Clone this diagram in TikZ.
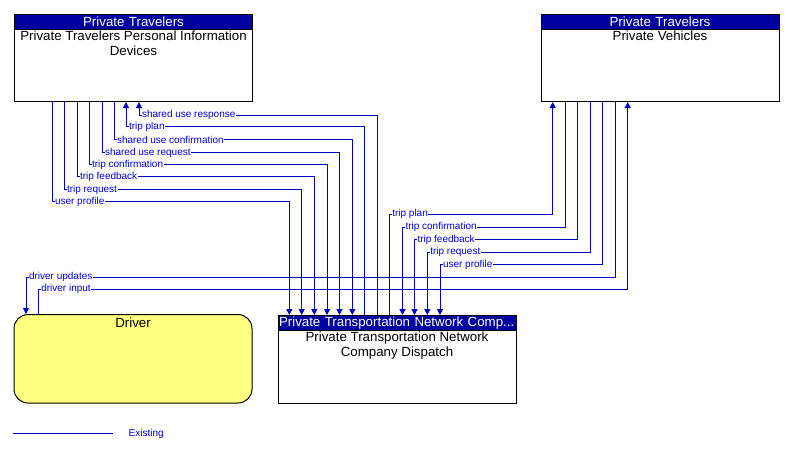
\documentclass[tikz,border=0pt]{standalone}
\usepackage{fontspec}
\setmainfont{Liberation Sans}
\usetikzlibrary{positioning,arrows.meta}

\definecolor{flowblue}{RGB}{0,0,192}
\definecolor{headblue}{RGB}{0,0,160}
\definecolor{labelblue}{RGB}{0,0,230}
\definecolor{driveryellow}{RGB}{255,255,128}

\tikzset{
  sysbox/.style={draw=black, line width=1pt, rectangle, inner sep=0pt, anchor=north west},
  syshead/.style={draw=black, line width=1pt, fill=headblue, text=white, inner xsep=1pt, inner ysep=0pt,
    text width=236pt, align=center, minimum height=15pt, anchor=north west, font=\fontsize{13.3}{15}\selectfont},
  systext/.style={inner sep=0pt, align=center, font=\fontsize{13.3}{15}\selectfont},
  flowline/.style={draw=flowblue, line width=1pt},
  flowlabel/.style={text=labelblue, fill=white, inner sep=0.5pt, anchor=west, xshift=2pt, font=\fontsize{10}{11}\selectfont},
}

\begin{document}
\begin{tikzpicture}[x=1pt, y=-1pt, >={Triangle[length=6pt,width=6pt]}]
  % Rahmen
  \useasboundingbox (0,0) rectangle (788,451);

  % Private Travelers Personal Information Devices
  \node[sysbox, minimum width=238pt, minimum height=87pt] (pid) at (14,14) {};
  \node[syshead] (pidhead) at (pid.north west) {Private Travelers};
  \node[systext, below=1pt of pidhead] (pidtext) {Private Travelers Personal Information\\Devices};

  % Private Vehicles
  \node[sysbox, minimum width=238pt, minimum height=87pt] (pv) at (540.5,14) {};
  \node[syshead] (pvhead) at (pv.north west) {Private Travelers};
  \node[systext, below=1pt of pvhead] (pvtext) {Private Vehicles};

  % Driver
  \node[sysbox, fill=driveryellow, rounded corners=14pt, minimum width=238pt, minimum height=88.5pt] (drv) at (13.5,314) {};
  \node[systext, below=3.5pt of drv.north] (drvtext) {Driver};

  % Private Transportation Network Company Dispatch
  \node[sysbox, minimum width=238pt, minimum height=88pt] (disp) at (277.5,315) {};
  \node[syshead, align=left] (disphead) at (disp.north west) {Private Transportation Network Comp...};
  \node[systext, below=1pt of disphead] (disptext) {Private Transportation Network\\Company Dispatch};

  % Fluesse Personal Information Devices <-> Dispatch
  \draw[flowline, ->] (52,0 |- pid.south) |- node[flowlabel] {user profile} (289.3,201.7) -- (289.3,0 |- disp.north);
  \draw[flowline, ->] (64,0 |- pid.south) |- node[flowlabel] {trip request} (301.7,189.7) -- (301.7,0 |- disp.north);
  \draw[flowline, ->] (77,0 |- pid.south) |- node[flowlabel] {trip feedback} (314.3,176.7) -- (314.3,0 |- disp.north);
  \draw[flowline, ->] (89,0 |- pid.south) |- node[flowlabel] {trip confirmation} (327,164.7) -- (327,0 |- disp.north);
  \draw[flowline, ->] (102,0 |- pid.south) |- node[flowlabel] {shared use request} (339.5,152.7) -- (339.5,0 |- disp.north);
  \draw[flowline, ->] (114,0 |- pid.south) |- node[flowlabel] {shared use confirmation} (352.3,139.7) -- (352.3,0 |- disp.north);
  \draw[flowline, <-] (126,0 |- pid.south) |- node[flowlabel] {trip plan} (364.5,126.7) -- (364.5,0 |- disp.north);
  \draw[flowline, <-] (139,0 |- pid.south) |- node[flowlabel] {shared use response} (377.3,115) -- (377.3,0 |- disp.north);

  % Fluesse Dispatch <-> Private Vehicles
  \draw[flowline, ->] (389.3,0 |- disp.north) |- node[flowlabel] {trip plan} (552.7,214) -- (552.7,0 |- pv.south);
  \draw[flowline, <-] (402.5,0 |- disp.north) |- node[flowlabel] {trip confirmation} (565.3,227) -- (565.3,0 |- pv.south);
  \draw[flowline, <-] (414.5,0 |- disp.north) |- node[flowlabel] {trip feedback} (577.5,239.5) -- (577.5,0 |- pv.south);
  \draw[flowline, <-] (427.3,0 |- disp.north) |- node[flowlabel] {trip request} (590.3,252) -- (590.3,0 |- pv.south);
  \draw[flowline, <-] (440,0 |- disp.north) |- node[flowlabel] {user profile} (602.3,264.5) -- (602.3,0 |- pv.south);

  % Fluesse Driver <-> Private Vehicles
  \draw[flowline, <-] (26,0 |- drv.north) |- node[flowlabel] {driver updates} (615.7,277.3) -- (615.7,0 |- pv.south);
  \draw[flowline, ->] (38.3,0 |- drv.north) |- node[flowlabel] {driver input} (627.7,289.2) -- (627.7,0 |- pv.south);

  % Legende
  \coordinate (legA) at (13,433);
  \coordinate (legB) at (113,433);
  \draw[flowline] (legA) -- (legB);
  \node[flowlabel, xshift=0pt] (legtxt) at (126,433.5) {Existing};
\end{tikzpicture}
\end{document}
